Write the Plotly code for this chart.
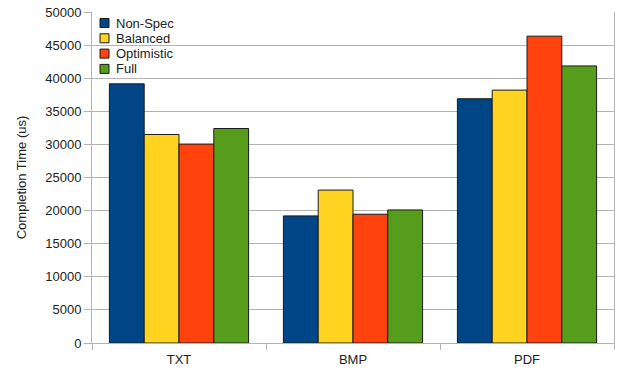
import plotly.graph_objects as go

categories = ["TXT", "BMP", "PDF"]
series_names = ["Non-Spec", "Balanced", "Optimistic", "Full"]
non_spec = [39150, 19200, 36900]
balanced = [31500, 23100, 38200]
optimistic = [30050, 19450, 46350]
full = [32400, 20100, 41850]
series_values = [non_spec, balanced, optimistic, full]
colors = ["#004586", "#ffd320", "#ff420e", "#579d1c"]
y_ticks = [0, 5000, 10000, 15000, 20000, 25000, 30000, 35000, 40000, 45000, 50000]
y_tick_labels = [str(v) for v in y_ticks]

W, H = 620, 372
ML, MR, MT, MB = 92, 6, 12, 29
PW, PH = W - ML - MR, H - MT - MB

fig = go.Figure()
for name, vals, col in zip(series_names, series_values, colors):
    fig.add_trace(go.Bar(
        x=categories, y=vals, name=name, showlegend=False,
        marker=dict(color=col, line=dict(color="#1a1a1a", width=1)),
    ))

# manual legend (compact rows like the reference)
shapes, annotations = [], []
for i, (name, col) in enumerate(zip(series_names, colors)):
    cy = 23 + i * 15.3
    x0 = (100 - ML) / PW
    x1 = (109 - ML) / PW
    y0 = 1 - (cy - 4.5 - MT) / PH
    y1 = 1 - (cy + 4.5 - MT) / PH
    shapes.append(dict(type="rect", xref="paper", yref="paper", x0=x0, x1=x1, y0=y1, y1=y0,
                       fillcolor=col, line=dict(color="#1a1a1a", width=1), layer="above"))
    annotations.append(dict(xref="paper", yref="paper", x=(114 - ML) / PW, y=1 - (cy - MT) / PH,
                            xanchor="left", yanchor="middle", text=name, showarrow=False,
                            font=dict(size=13, color="#222222")))

axis_gray = "#b3b3b3"
fig.update_layout(
    width=W, height=H,
    margin=dict(l=ML, r=MR, t=MT, b=MB),
    barmode="group", bargap=0.2, bargroupgap=0,
    plot_bgcolor="white", paper_bgcolor="white",
    font=dict(family="Liberation Sans, Arial, sans-serif", size=13, color="#222222"),
    showlegend=False,
    shapes=shapes, annotations=annotations,
    xaxis=dict(
        automargin=False,
        showline=True, linecolor=axis_gray, linewidth=1,
        ticks="outside", tickson="boundaries", ticklen=6, tickcolor=axis_gray,
        ticklabelstandoff=4,
        showgrid=False, zeroline=False,
    ),
    yaxis=dict(
        automargin=False,
        range=[0, 50000], tickvals=y_ticks, ticktext=y_tick_labels,
        showline=True, linecolor=axis_gray, linewidth=1, mirror=True,
        ticks="outside", ticklen=7, tickcolor=axis_gray,
        showgrid=True, gridcolor=axis_gray, gridwidth=1,
        zeroline=False,
        title=dict(text="Completion Time (us)", standoff=15, font=dict(size=13)),
    ),
)

fig.write_html("out.html", config={"displayModeBar": False},
               post_script="document.body.style.margin='0';")
